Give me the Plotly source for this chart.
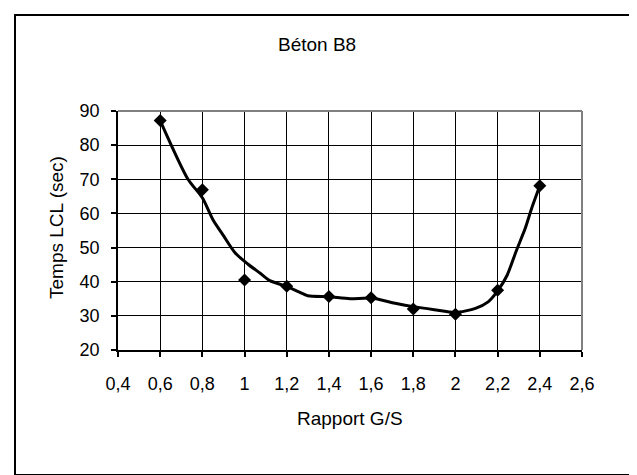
import plotly.graph_objects as go

# Measured points (diamonds)
ratio_gs = [0.6, 0.8, 1.0, 1.2, 1.4, 1.6, 1.8, 2.0, 2.2, 2.4]
temps_lcl = [87.2, 66.9, 40.5, 38.7, 35.7, 35.3, 32.0, 30.5, 37.5, 68.1]

# Smoothed curve
curve_x = [0.6, 0.731, 0.8, 0.851, 0.90, 0.956, 1.015, 1.076, 1.12, 1.195, 1.255, 1.30,
           1.40, 1.50, 1.60, 1.72, 1.80, 1.90, 2.00, 2.095, 2.155, 2.20, 2.245, 2.29,
           2.33, 2.363, 2.40]
curve_y = [87.2, 70.1, 64.6, 58.1, 53.5, 48.4, 45.2, 42.4, 40.3, 38.7, 37.1, 35.9,
           35.6, 35.0, 35.2, 33.6, 32.7, 31.8, 31.0, 32.2, 34.1, 37.3, 41.9, 49.3,
           55.5, 61.8, 68.1]

x_ticks = [0.4, 0.6, 0.8, 1.0, 1.2, 1.4, 1.6, 1.8, 2.0, 2.2, 2.4, 2.6]
x_tick_labels = ["0,4", "0,6", "0,8", "1", "1,2", "1,4", "1,6", "1,8", "2", "2,2", "2,4", "2,6"]
y_ticks = [20, 30, 40, 50, 60, 70, 80, 90]

FONT = "Liberation Sans, Arial, sans-serif"

fig = go.Figure()
fig.add_trace(go.Scatter(
    x=curve_x, y=curve_y, mode="lines",
    line=dict(color="black", width=3, shape="spline", smoothing=0.7),
    hoverinfo="skip", showlegend=False,
))
fig.add_trace(go.Scatter(
    x=ratio_gs, y=temps_lcl, mode="markers",
    marker=dict(symbol="diamond", size=10, color="black"),
    showlegend=False,
))

W, H = 637, 475
L, R, T, B = 110, 63, 103, 133
pw = W - L - R
ph = H - T - B

def px(xp):
    return (xp - L) / pw

def py(yp):
    return (H - B - yp) / ph

fig.update_layout(
    width=W, height=H,
    margin=dict(l=L, r=R, t=T, b=B, autoexpand=False),
    paper_bgcolor="white", plot_bgcolor="white",
    font=dict(family=FONT, size=18, color="black"),
    showlegend=False,
)
fig.update_xaxes(
    range=[0.4, 2.6], tickvals=x_ticks, ticktext=x_tick_labels,
    showgrid=True, gridcolor="black", gridwidth=1,
    showline=True, linecolor="black", linewidth=1.5,
    ticks="outside", ticklen=5, tickcolor="black", tickwidth=1.5,
    zeroline=False, ticklabelstandoff=12,
    tickfont=dict(size=18),
)
fig.update_yaxes(
    range=[20, 90], tickvals=y_ticks,
    showgrid=True, gridcolor="black", gridwidth=1,
    showline=True, linecolor="black", linewidth=1.5,
    ticks="outside", ticklen=5, tickcolor="black", tickwidth=1.5,
    zeroline=False, ticklabelstandoff=8,
    tickfont=dict(size=18),
)
# titles as annotations for exact placement
fig.add_annotation(text="Béton B8", xref="paper", yref="paper",
                   x=px(309), y=py(36), xanchor="center", yanchor="middle",
                   showarrow=False, font=dict(size=19))
fig.add_annotation(text="Rapport G/S", xref="paper", yref="paper",
                   x=px(342), y=py(410), xanchor="center", yanchor="middle",
                   showarrow=False, font=dict(size=19))
fig.add_annotation(text="Temps LCL (sec)", xref="paper", yref="paper",
                   x=px(48), y=py(220), xanchor="center", yanchor="middle",
                   textangle=-90, showarrow=False, font=dict(size=19))
# gray plot-area border on top and right
fig.add_shape(type="line", xref="paper", yref="paper", x0=0, x1=1, y0=1, y1=1,
              line=dict(color="#808080", width=2), layer="above")
fig.add_shape(type="line", xref="paper", yref="paper", x0=1, x1=1, y0=0, y1=1,
              line=dict(color="#808080", width=2), layer="above")
# outer chart border
fig.add_shape(type="rect", xref="paper", yref="paper",
              x0=px(7), x1=px(629), y0=py(467), y1=py(7),
              line=dict(color="black", width=2), layer="above")

fig.write_html("out.html")
